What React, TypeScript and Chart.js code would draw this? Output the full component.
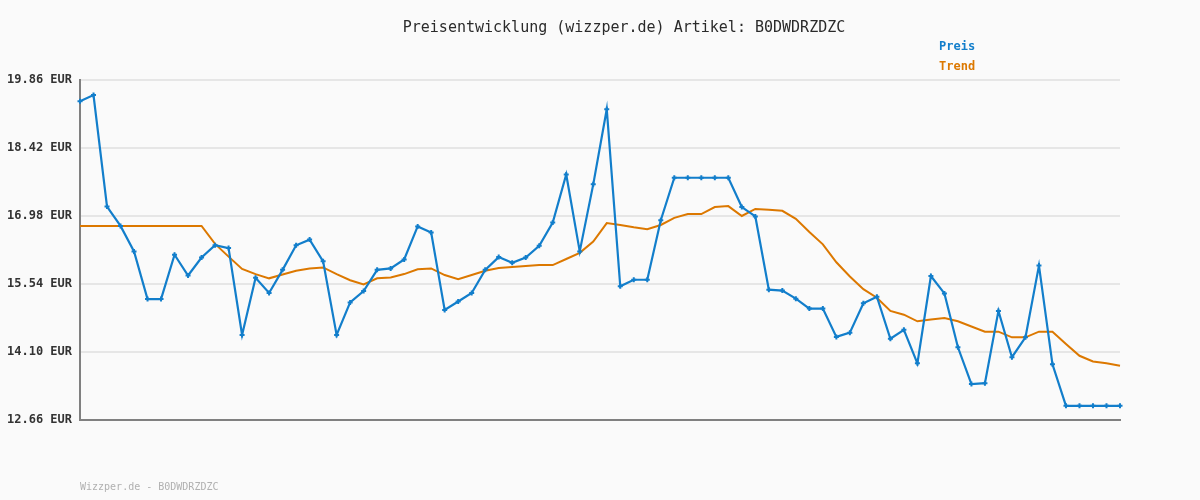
import React, { useEffect, useRef } from "react";
import { Chart, registerables } from "chart.js";

Chart.register(...registerables);

const priceValues: number[] = [
  19.41, 19.54, 17.18, 16.77, 16.23, 15.22, 15.22, 16.16, 15.72, 16.10,
  16.36, 16.30, 14.46, 15.67, 15.35, 15.84, 16.36, 16.48, 16.02, 14.46,
  15.15, 15.39, 15.84, 15.87, 16.06, 16.76, 16.63, 14.99, 15.17, 15.35,
  15.84, 16.11, 15.99, 16.10, 16.35, 16.84, 17.86, 16.23, 17.65, 19.24,
  15.49, 15.63, 15.63, 16.89, 17.79, 17.79, 17.79, 17.79, 17.79, 17.17,
  16.97, 15.42, 15.40, 15.23, 15.02, 15.02, 14.42, 14.51, 15.13, 15.27,
  14.38, 14.57, 13.86, 15.71, 15.34, 14.20, 13.42, 13.44, 14.97, 13.99,
  14.41, 15.93, 13.84, 12.96, 12.96, 12.96, 12.96, 12.96,
];

const trendValues: number[] = [
  16.77, 16.77, 16.77, 16.77, 16.77, 16.77, 16.77, 16.77, 16.77, 16.77,
  16.39, 16.12, 15.86, 15.75, 15.66, 15.74, 15.82, 15.87, 15.89, 15.75,
  15.62, 15.53, 15.66, 15.68, 15.75, 15.85, 15.87, 15.73, 15.64, 15.73,
  15.82, 15.88, 15.90, 15.92, 15.94, 15.94, 16.07, 16.20, 16.44, 16.83,
  16.79, 16.74, 16.70, 16.79, 16.94, 17.02, 17.02, 17.17, 17.19, 16.98,
  17.13, 17.11, 17.09, 16.92, 16.64, 16.38, 16.00, 15.70, 15.43, 15.25,
  14.97, 14.89, 14.75, 14.79, 14.82, 14.75, 14.64, 14.53, 14.53, 14.41,
  14.41, 14.53, 14.53, 14.27, 14.02, 13.90, 13.86, 13.81,
];

const categories: string[] = priceValues.map((_, i) => String(i + 1));

const yTicks: number[] = [12.66, 14.1, 15.54, 16.98, 18.42, 19.86];

const titleText = "Preisentwicklung (wizzper.de) Artikel: B0DWDRZDZC";
const legendLabels: string[] = ["Preis", "Trend"];
const footerText = "Wizzper.de - B0DWDRZDZC";

const BLUE = "#127ecb";
const ORANGE = "#dc7800";
const MONO = "'DejaVu Sans Mono', 'Liberation Mono', monospace";

export default function App() {
  const canvasRef = useRef<HTMLCanvasElement | null>(null);

  useEffect(() => {
    if (!canvasRef.current) return;
    const decor = {
      id: "decor",
      beforeDraw(chart: any) {
        const ctx = chart.ctx;
        ctx.save();
        ctx.fillStyle = "#fafafa";
        ctx.fillRect(0, 0, chart.width, chart.height);
        ctx.restore();
      },
      afterDraw(chart: any) {
        const ctx = chart.ctx;
        ctx.save();
        ctx.textBaseline = "middle";
        ctx.font = `15px ${MONO}`;
        ctx.fillStyle = "#2a2a2a";
        ctx.textAlign = "center";
        ctx.fillText(titleText, 624, 28);
        ctx.textAlign = "left";
        ctx.font = `bold 12px ${MONO}`;
        ctx.fillStyle = BLUE;
        ctx.fillText(legendLabels[0], 939, 47);
        ctx.fillStyle = ORANGE;
        ctx.fillText(legendLabels[1], 939, 67);
        ctx.font = `10px ${MONO}`;
        ctx.fillStyle = "#b0b0b0";
        ctx.fillText(footerText, 80, 487);
        ctx.restore();
      },
    };

    const chart = new Chart(canvasRef.current, {
      type: "line",
      data: {
        labels: categories,
        datasets: [
          {
            label: legendLabels[1],
            data: trendValues,
            borderColor: ORANGE,
            borderWidth: 2,
            pointRadius: 0,
            tension: 0,
            order: 2,
          },
          {
            label: legendLabels[0],
            data: priceValues,
            borderColor: BLUE,
            backgroundColor: BLUE,
            borderWidth: 2.2,
            pointStyle: "cross",
            pointRadius: 2.5,
            pointBorderWidth: 2,
            pointBorderColor: BLUE,
            tension: 0,
            order: 1,
          },
        ],
      },
      options: {
        responsive: false,
        animation: false,
        layout: { padding: { top: 80, right: 80, bottom: 80, left: 0 } },
        plugins: {
          legend: { display: false },
          title: { display: false },
          tooltip: { enabled: false },
        },
        scales: {
          x: {
            offset: false,
            grid: { display: false, drawTicks: false },
            ticks: { display: false },
            border: { display: true, color: "#808080", width: 2 },
            afterFit(scale: any) {
              scale.height = 0;
            },
          },
          y: {
            min: 12.66,
            max: 19.86,
            afterBuildTicks(scale: any) {
              scale.ticks = yTicks.map((v) => ({ value: v }));
            },
            ticks: {
              callback: (v: any) => Number(v).toFixed(2) + " EUR",
              color: "#333333",
              font: { family: MONO, size: 12, weight: "bold" },
              padding: 8,
            },
            grid: { color: "#e6e6e6", lineWidth: 2, drawTicks: false },
            border: { display: true, color: "#808080", width: 2 },
            afterFit(scale: any) {
              scale.width = 80;
            },
          },
        },
      },
      plugins: [decor],
    } as any);
    return () => chart.destroy();
  }, []);

  return (
    <div style={{ position: "fixed", left: 0, top: 0, width: 1200, height: 500, background: "#fafafa" }}>
      <canvas ref={canvasRef} width={1200} height={500} style={{ display: "block" }} />
    </div>
  );
}
